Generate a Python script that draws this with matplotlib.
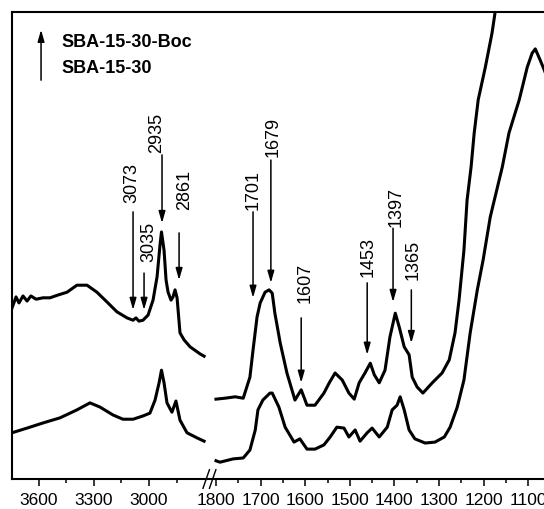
import numpy as np
import matplotlib
matplotlib.use('Agg')
import matplotlib.pyplot as plt

plt.rcParams['font.family'] = ['Liberation Sans', 'DejaVu Sans']

# --- spectra (wavenumber in cm-1, intensity in a.u.) ---
# high-frequency region
wn_hi_boc = [3747, 3725, 3709, 3687, 3665, 3644, 3616, 3578, 3540, 3496, 3447, 3393,
             3338, 3284, 3229, 3175, 3120, 3087, 3071, 3055, 3033, 3005, 2978, 2956,
             2940, 2932, 2918, 2907, 2896, 2880, 2869, 2858, 2847, 2831, 2809, 2776,
             2722, 2695]
boc_hi = [36.6, 39.0, 37.7, 39.2, 38.1, 39.2, 38.5, 38.8, 38.8, 39.4, 40.0, 41.5,
          41.5, 40.0, 37.9, 35.8, 34.5, 34.0, 34.5, 33.8, 34.0, 35.1, 38.3, 43.3,
          50.1, 52.9, 49.0, 42.6, 40.0, 38.3, 39.0, 40.5, 38.8, 31.3, 29.8, 28.3,
          26.8, 26.3]

wn_hi_ref = [3747, 3665, 3578, 3485, 3393, 3322, 3267, 3196, 3142, 3087, 3033, 2995,
             2967, 2945, 2932, 2918, 2902, 2875, 2853, 2831, 2793, 2738, 2695]
ref_hi = [9.9, 10.9, 12.0, 13.1, 14.8, 16.3, 15.4, 13.7, 12.8, 12.8, 13.5, 14.1,
          16.9, 20.6, 23.3, 20.6, 16.3, 14.3, 16.7, 12.6, 9.9, 8.8, 8.1]

# fingerprint region
wn_lo_boc = [1802, 1780, 1757, 1739, 1724, 1717, 1708, 1701, 1690, 1681, 1674, 1668,
             1656, 1641, 1623, 1609, 1596, 1578, 1558, 1546, 1533, 1517, 1502, 1490,
             1479, 1466, 1454, 1445, 1434, 1421, 1410, 1398, 1389, 1378, 1367, 1360,
             1349, 1336, 1315, 1293, 1277, 1264, 1255, 1244, 1237, 1228, 1221, 1212,
             1196, 1181, 1170]
boc_lo = [17.1, 17.3, 17.6, 17.3, 21.8, 27.6, 34.7, 37.7, 40.0, 40.5, 39.8, 35.5,
          29.1, 22.7, 16.9, 19.1, 15.8, 15.8, 18.4, 20.6, 22.7, 21.2, 18.4, 17.1,
          20.6, 22.7, 24.8, 22.3, 20.6, 23.3, 30.4, 35.5, 32.5, 28.3, 26.6, 21.8,
          19.7, 18.4, 20.6, 22.7, 25.5, 31.3, 38.3, 49.0, 59.7, 66.8, 74.1, 81.2,
          88.2, 95.5, 102.6]

wn_lo_ref = [1800, 1791, 1762, 1739, 1724, 1712, 1706, 1695, 1679, 1674, 1659, 1645,
             1625, 1612, 1596, 1578, 1558, 1544, 1529, 1513, 1502, 1488, 1477, 1461,
             1450, 1434, 1416, 1405, 1394, 1387, 1378, 1367, 1354, 1331, 1309, 1288,
             1275, 1259, 1244, 1230, 1214, 1201, 1185, 1158, 1143, 1120, 1102, 1091,
             1084, 1073, 1064, 1051]
ref_lo = [3.9, 3.6, 4.3, 4.5, 6.2, 10.5, 14.8, 16.9, 18.4, 18.4, 15.4, 11.1,
          7.9, 8.6, 6.4, 6.4, 7.3, 9.0, 11.1, 10.9, 9.0, 10.5, 8.1, 9.9,
          10.9, 9.0, 11.1, 14.8, 15.8, 17.6, 14.8, 10.5, 8.6, 7.7, 7.9, 9.0,
          11.1, 15.4, 21.2, 31.3, 40.5, 46.9, 56.1, 66.8, 74.1, 81.2, 88.2, 91.2,
          92.1, 89.7, 87.6, 84.4]

# peak markers: label, arrow position, arrow tail, arrow head, label position
peak_labels = ['3073', '3035', '2935', '2861', '1701', '1679', '1607', '1453', '1397', '1365']
arrow_wn = [3087, 3027, 2929, 2836, 1717, 1677, 1609, 1461, 1403, 1362]
arrow_top = [57.2, 44.1, 69.4, 52.7, 57.2, 68.3, 34.5, 42.0, 53.7, 40.5]
arrow_tip = [36.2, 36.2, 54.8, 42.6, 38.8, 42.0, 20.6, 26.6, 37.9, 29.1]
label_wn = [3095, 3003, 2959, 2806, 1716, 1673, 1601, 1460, 1395, 1357]
label_y = [59.1, 46.5, 69.8, 57.6, 57.6, 68.9, 37.7, 43.3, 54.0, 42.6]

major_ticks = [3600, 3300, 3000, 1800, 1700, 1600, 1500, 1400, 1300, 1200, 1100]
minor_ticks = [3450, 3150, 2850, 1750, 1650, 1550, 1450, 1350, 1250, 1150]


# broken axis: 3750-2700 compressed on the left, 1800-1050 on the right
def forward(w):
    w = np.asarray(w, dtype=float)
    p = np.where(w >= 2700, 39 + (3600 - w) * 55 / 300,
                 np.where(w <= 1800, 216 + (1800 - w) * 312 / 700,
                          204 + (2700 - w) * 12 / 900))
    return -p


def inverse(q):
    p = -np.asarray(q, dtype=float)
    return np.where(p <= 204, 3600 - (p - 39) * 300 / 55,
                    np.where(p >= 216, 1800 - (p - 216) * 700 / 312,
                             2700 - (p - 204) * 900 / 12))


fig = plt.figure(figsize=(5.44, 5.09), dpi=100)
ax = fig.add_axes([12 / 544, 30 / 509, 538 / 544, 467 / 509])
ax.set_xscale('function', functions=(forward, inverse))

ax.plot(wn_hi_boc, boc_hi, color='black', lw=2.2)
ax.plot(wn_lo_boc, boc_lo, color='black', lw=2.2)
ax.plot(wn_hi_ref, ref_hi, color='black', lw=2.2)
ax.plot(wn_lo_ref, ref_lo, color='black', lw=2.2)

ax.set_xlim(3747, 1051)
ax.set_ylim(0, 100)

arrow_style = dict(arrowstyle='-|>,head_length=0.7,head_width=0.2', color='black',
                   lw=1.1, shrinkA=0, shrinkB=0, mutation_scale=10)
for lab, xa, yt, yh, lx, ly in zip(peak_labels, arrow_wn, arrow_top, arrow_tip, label_wn, label_y):
    ax.annotate('', xy=(xa, yh), xytext=(xa, yt), arrowprops=arrow_style)
    ax.text(lx, ly, lab, rotation=90, ha='center', va='bottom', fontsize=13)

# legend
ax.annotate('', xy=(0.054, 0.962), xytext=(0.054, 0.854), xycoords='axes fraction',
            arrowprops=arrow_style)
ax.text(0.091, 0.934, 'SBA-15-30-Boc', transform=ax.transAxes, fontsize=13,
        fontweight='bold', va='center')
ax.text(0.091, 0.878, 'SBA-15-30', transform=ax.transAxes, fontsize=13,
        fontweight='bold', va='center')

# ticks
ax.set_xticks(major_ticks)
ax.set_xticklabels([str(t) for t in major_ticks])
ax.set_xticks(minor_ticks, minor=True)
ax.tick_params(axis='x', which='major', direction='out', length=5, width=1.1,
               labelsize=12.5, pad=5)
ax.tick_params(axis='x', which='minor', direction='out', length=3, width=1.1)
ax.set_yticks([])
for s in ax.spines.values():
    s.set_linewidth(1.5)

# axis break marks
for xb in (0.361, 0.373):
    ax.plot([xb - 0.006, xb + 0.006], [-0.02, 0.02], transform=ax.transAxes,
            color='black', lw=1.0, clip_on=False)

fig.savefig('out.png', dpi=100)
